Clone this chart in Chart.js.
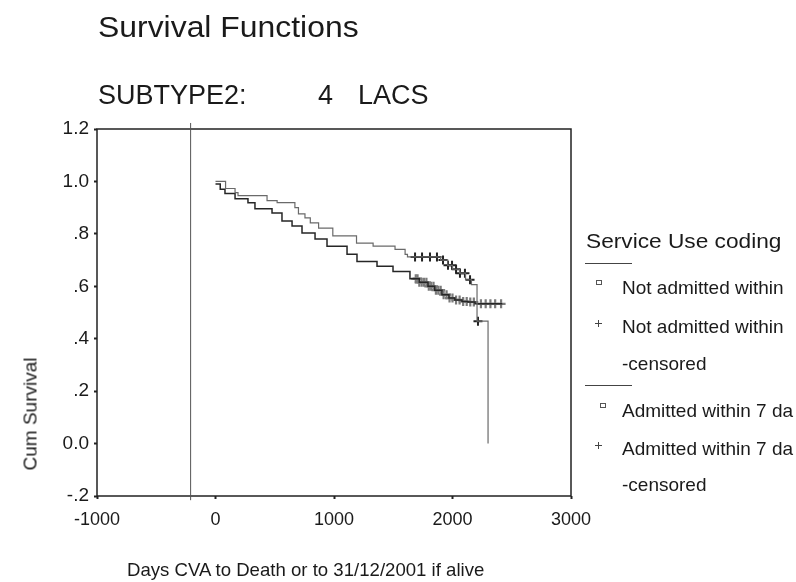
<!DOCTYPE html>
<html>
<head>
<meta charset="utf-8">
<script src="https://cdn.jsdelivr.net/npm/chart.js@4.4.1/dist/chart.umd.min.js"></script>
<style>
  body { margin: 0; background: #fff; }
  #wrap { position: relative; width: 796px; height: 582px; overflow: hidden;
          font-family: Arial, "Liberation Sans", sans-serif; color: #1a1a1a; }
  #survChart { position: absolute; left: 0; top: 0; }
  .txt { position: absolute; white-space: nowrap; line-height: 1; }
  .sep { position: absolute; height: 1px; width: 47px; background: #444; left: 585px; }
  .sq { position: absolute; width: 4px; height: 3px; border: 1px solid #555; }
  .plus { position: absolute; width: 7px; height: 7px; }
  .plus::before, .plus::after { content: ""; position: absolute; background: #444; }
  .plus::before { left: 0; top: 3px; width: 7px; height: 1px; }
  .plus::after { left: 3px; top: 0; width: 1px; height: 7px; }
</style>
</head>
<body>
<div id="wrap">
  <canvas id="survChart" width="796" height="582"></canvas>

  <div class="txt" style="left:98px; top:13px; font-size:29px; transform:scaleX(1.1); transform-origin:left;">Survival Functions</div>
  <div class="txt" style="left:98px; top:82px; font-size:27px;">SUBTYPE2:</div>
  <div class="txt" style="left:318px; top:82px; font-size:27px;">4</div>
  <div class="txt" style="left:358px; top:82px; font-size:27px;">LACS</div>

  <div class="txt" style="left:30px; top:414px; font-size:19px; transform:translate(-50%,-50%) rotate(-90deg);">Cum Survival</div>
  <div class="txt" style="left:127px; top:561px; font-size:18.6px;">Days CVA to Death or to 31/12/2001 if alive</div>

  <div class="txt" style="left:586px; top:230px; font-size:21px; transform:scaleX(1.08); transform-origin:left;">Service Use coding</div>
  <div class="sep" style="top:263px;"></div>
  <div class="sq" style="left:596px; top:280px;"></div>
  <div class="txt" style="left:622px; top:278px; font-size:19px;">Not admitted within</div>
  <div class="plus" style="left:595px; top:320px;"></div>
  <div class="txt" style="left:622px; top:317px; font-size:19px;">Not admitted within</div>
  <div class="txt" style="left:622px; top:354px; font-size:19px;">-censored</div>
  <div class="sep" style="top:385px;"></div>
  <div class="sq" style="left:600px; top:403px;"></div>
  <div class="txt" style="left:622px; top:401px; font-size:19px;">Admitted within 7 da</div>
  <div class="plus" style="left:595px; top:442px;"></div>
  <div class="txt" style="left:622px; top:439px; font-size:19px;">Admitted within 7 da</div>
  <div class="txt" style="left:622px; top:475px; font-size:19px;">-censored</div>
</div>

<script>
// Not admitted within 7 days: event times (days) and cumulative survival
const notAdmTimes = [0, 85, 165, 190, 435, 520, 670, 700, 755, 800, 870, 990, 1190, 1330, 1515, 1600, 1620, 1900, 1960, 2000, 2060, 2110, 2160, 2207, 2300];
const notAdmSurv  = [1.0, 0.973, 0.957, 0.946, 0.927, 0.919, 0.900, 0.876, 0.861, 0.842, 0.822, 0.792, 0.765, 0.753, 0.741, 0.722, 0.712, 0.700, 0.680, 0.665, 0.650, 0.625, 0.606, 0.467, 0.0];
const notAdmCensTimes = [1684, 1743, 1810, 1869, 1920, 1962, 1996, 2030, 2063, 2105, 2148, 2215];
const notAdmCensSurv  = [0.712, 0.712, 0.712, 0.712, 0.700, 0.680, 0.680, 0.665, 0.650, 0.650, 0.625, 0.467];

// Admitted within 7 days
const admTimes = [0, 40, 80, 165, 274, 333, 477, 561, 646, 730, 840, 941, 1110, 1194, 1363, 1498, 1641, 1720, 1793, 1850, 1911, 1970, 2020, 2080, 2130, 2190, 2420];
const admSurv  = [0.99, 0.97, 0.954, 0.934, 0.919, 0.896, 0.880, 0.849, 0.830, 0.803, 0.780, 0.753, 0.722, 0.695, 0.676, 0.656, 0.629, 0.615, 0.600, 0.585, 0.568, 0.555, 0.548, 0.542, 0.540, 0.533, 0.533];
const admCensTimes = [1690, 1705, 1720, 1740, 1760, 1780, 1800, 1820, 1840, 1860, 1880, 1900, 1925, 1950, 1975, 2000, 2030, 2060, 2090, 2120, 2150, 2180, 2240, 2280, 2320, 2360, 2410];
const admCensSurv  = [0.629, 0.629, 0.615, 0.615, 0.615, 0.615, 0.600, 0.600, 0.600, 0.585, 0.585, 0.585, 0.568, 0.568, 0.555, 0.555, 0.548, 0.548, 0.542, 0.542, 0.540, 0.540, 0.533, 0.533, 0.533, 0.533, 0.533];

// stray vertical rule in the original plot
const refLineX = [-210, -210];
const refLineY = [-0.216, 1.223];

const yTickLabels = ['-.2', '0.0', '.2', '.4', '.6', '.8', '1.0', '1.2'];

const toPoints = (xs, ys) => xs.map((x, i) => ({ x: x, y: ys[i] }));

const frame = {
    id: 'frame',
    beforeDatasetsDraw(chart) {
        const a = chart.chartArea;
        const c = chart.ctx;
        c.save();
        c.strokeStyle = '#222';
        c.lineWidth = 1.5;
        c.strokeRect(a.left, a.top, a.right - a.left, a.bottom - a.top);
        c.restore();
    }
};

const fontFamily = 'Arial, "Liberation Sans", sans-serif';

new Chart(document.getElementById('survChart'), {
    type: 'scatter',
    data: {
        datasets: [
            {
                label: 'ref',
                data: toPoints(refLineX, refLineY),
                showLine: true,
                borderColor: '#555',
                borderWidth: 1,
                pointRadius: 0,
                clip: false
            },
            {
                label: 'Not admitted within',
                data: toPoints(notAdmTimes, notAdmSurv),
                showLine: true,
                stepped: true,
                borderColor: '#6a6a6a',
                borderWidth: 1.2,
                pointRadius: 0
            },
            {
                label: 'Admitted within 7 da',
                data: toPoints(admTimes, admSurv),
                showLine: true,
                stepped: true,
                borderColor: '#262626',
                borderWidth: 1.5,
                pointRadius: 0
            },
            {
                label: 'Admitted within 7 da -censored',
                data: toPoints(admCensTimes, admCensSurv),
                showLine: false,
                pointStyle: 'cross',
                pointRadius: 4.5,
                borderWidth: 2.2,
                borderColor: '#7a7a7a',
                backgroundColor: '#7a7a7a'
            },
            {
                label: 'Not admitted within -censored',
                data: toPoints(notAdmCensTimes, notAdmCensSurv),
                showLine: false,
                pointStyle: 'cross',
                pointRadius: 4.5,
                borderWidth: 2,
                borderColor: '#222',
                backgroundColor: '#222'
            }
        ]
    },
    options: {
        responsive: false,
        animation: false,
        devicePixelRatio: 1,
        layout: { padding: { top: 129, right: 225, left: 0, bottom: 0 } },
        plugins: {
            legend: { display: false },
            tooltip: { enabled: false }
        },
        scales: {
            x: {
                type: 'linear',
                min: -1000,
                max: 3000,
                afterFit: function(scale) { scale.height = 86; },
                border: { display: false },
                grid: { drawOnChartArea: false, tickLength: 3, tickWidth: 2, color: '#222' },
                ticks: {
                    stepSize: 1000,
                    padding: 10,
                    maxRotation: 0,
                    color: '#1a1a1a',
                    font: { family: fontFamily, size: 18 },
                    callback: function(value) {
                        return String(value);
                    }
                }
            },
            y: {
                type: 'linear',
                min: -0.2,
                max: 1.2,
                afterFit: function(scale) { scale.width = 97; },
                border: { display: false },
                grid: { drawOnChartArea: false, tickLength: 3, tickWidth: 2, color: '#222' },
                ticks: {
                    stepSize: 0.2,
                    padding: 5,
                    color: '#1a1a1a',
                    font: { family: fontFamily, size: 19 },
                    callback: function(value, index) {
                        return yTickLabels[index];
                    }
                }
            }
        }
    },
    plugins: [frame]
});
</script>
</body>
</html>
